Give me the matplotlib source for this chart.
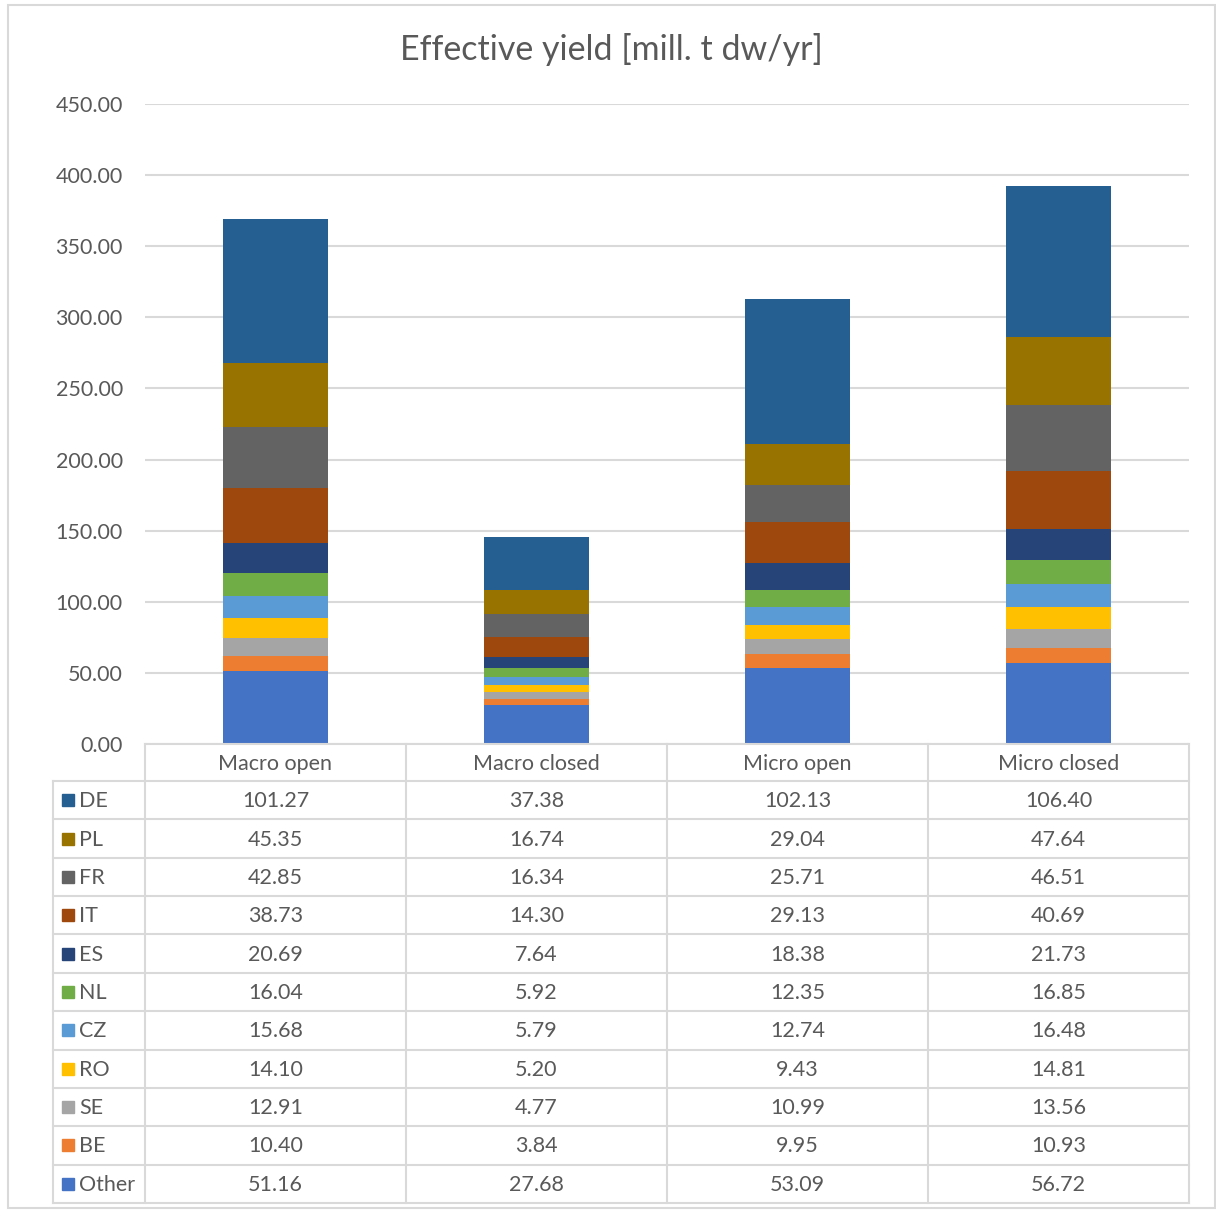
import matplotlib.pyplot as plt
import numpy as np

categories = ['Macro open', 'Macro closed', 'Micro open', 'Micro closed']
countries = ['DE', 'PL', 'FR', 'IT', 'ES', 'NL', 'CZ', 'RO', 'SE', 'BE', 'Other']
DE = [101.27, 37.38, 102.13, 106.40]
PL = [45.35, 16.74, 29.04, 47.64]
FR = [42.85, 16.34, 25.71, 46.51]
IT = [38.73, 14.30, 29.13, 40.69]
ES = [20.69, 7.64, 18.38, 21.73]
NL = [16.04, 5.92, 12.35, 16.85]
CZ = [15.68, 5.79, 12.74, 16.48]
RO = [14.10, 5.20, 9.43, 14.81]
SE = [12.91, 4.77, 10.99, 13.56]
BE = [10.40, 3.84, 9.95, 10.93]
Other = [51.16, 27.68, 53.09, 56.72]
values = [DE, PL, FR, IT, ES, NL, CZ, RO, SE, BE, Other]
colors = ['#255E91', '#997300', '#636363', '#9E480E', '#264478', '#70AD47',
          '#5B9BD5', '#FFC000', '#A5A5A5', '#ED7D31', '#4472C4']

txt = '#595959'
grid = '#d9d9d9'
W, H = 1216, 1212
plt.rcParams['font.family'] = ['Lato', 'DejaVu Sans']
fs = 15.5

fig = plt.figure(figsize=(W / 100, H / 100), dpi=100)

# plot area in pixels
L, R, T, B = 145, 1189, 104, 744
ax = fig.add_axes([L / W, 1 - B / H, (R - L) / W, (B - T) / H])
x = np.arange(len(categories))
bottom = np.zeros(len(categories))
# stack from bottom (Other) to top (DE)
for name, vals, c in reversed(list(zip(countries, values, colors))):
    ax.bar(x, vals, 0.4, bottom=bottom, color=c, zorder=3)
    bottom += np.array(vals)
ax.set_xlim(-0.5, len(categories) - 0.5)
ax.set_ylim(0, 450)
ax.set_yticks(np.arange(0, 451, 50))
ax.set_yticklabels(['%.2f' % v for v in np.arange(0, 451, 50)], color=txt, fontsize=fs)
ax.tick_params(axis='y', length=0, pad=16)
ax.set_xticks([])
ax.grid(axis='y', color=grid, linewidth=1.5, zorder=0)
for s in ax.spines.values():
    s.set_visible(False)

fig.text(611 / W, 1 - 50 / H, 'Effective yield [mill. t dw/yr]', ha='center', va='center',
         fontsize=24.5, color=txt)

# overlay for table and border, in pixel coordinates
ov = fig.add_axes([0, 0, 1, 1], zorder=5)
ov.set_xlim(0, W)
ov.set_ylim(H, 0)
ov.axis('off')
ov.patch.set_alpha(0)

ov.add_patch(plt.Rectangle((8, 5), W - 9, H - 9, fill=False, edgecolor=grid, linewidth=1.5))

col_x = np.linspace(L, R, len(categories) + 1)
leg_left = 53
head_bot = 781
tab_bot = 1203
row_y = np.linspace(head_bot, tab_bot, len(countries) + 1)

lw = 1.5
ov.plot([L, R], [B, B], color=grid, lw=lw)
for yy in row_y:
    ov.plot([leg_left, R], [yy, yy], color=grid, lw=lw)
for xx in col_x:
    ov.plot([xx, xx], [B, tab_bot], color=grid, lw=lw)
ov.plot([leg_left, leg_left], [head_bot, tab_bot], color=grid, lw=lw)

for j, cat in enumerate(categories):
    ov.text((col_x[j] + col_x[j + 1]) / 2, (B + head_bot) / 2 + 1, cat,
            ha='center', va='center', fontsize=fs, color=txt)

for i, (name, vals, c) in enumerate(zip(countries, values, colors)):
    yc = (row_y[i] + row_y[i + 1]) / 2
    ov.add_patch(plt.Rectangle((62, yc - 6), 12, 12, color=c))
    ov.text(79, yc + 1, name, ha='left', va='center', fontsize=fs, color=txt)
    for j, v in enumerate(vals):
        ov.text((col_x[j] + col_x[j + 1]) / 2, yc + 1, '%.2f' % v,
                ha='center', va='center', fontsize=fs, color=txt)

fig.savefig('out.png', dpi=100)
